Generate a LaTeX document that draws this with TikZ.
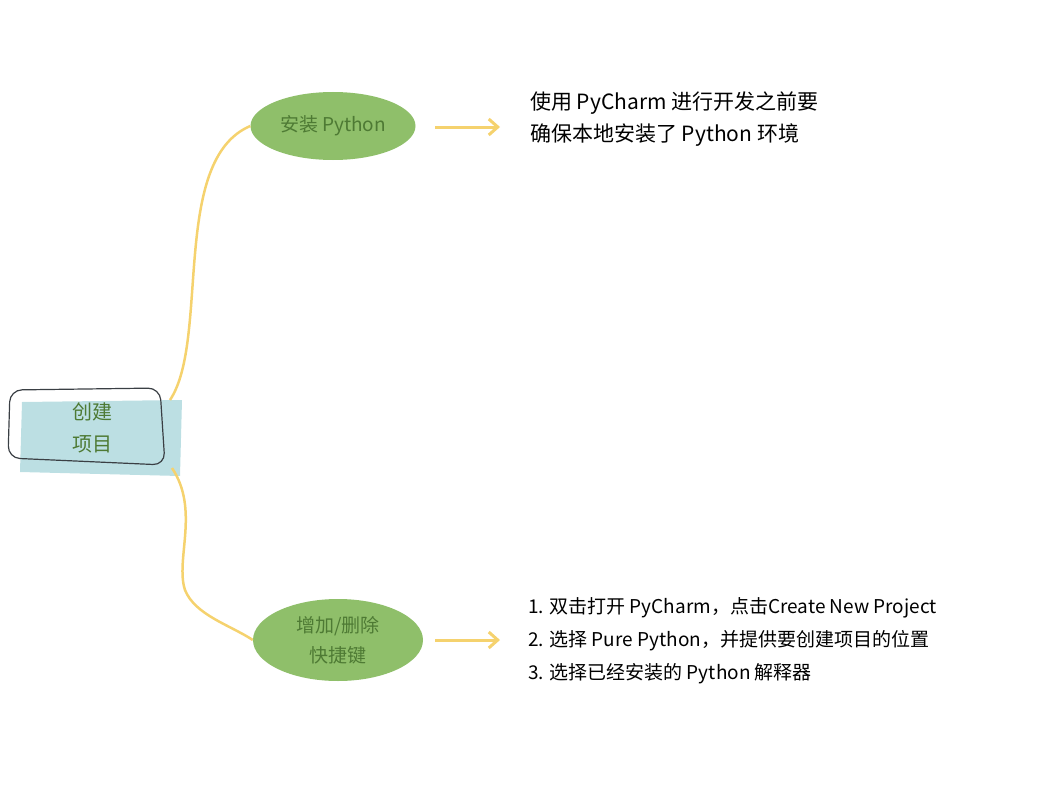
\documentclass[tikz,border=0pt]{standalone}
\usepackage{fontspec}
\setmainfont{Noto Sans CJK SC}
\usetikzlibrary{positioning,arrows.meta,shapes.geometric}
\definecolor{leaf}{HTML}{8FBF6A}
\definecolor{leaftext}{HTML}{4E7A34}
\definecolor{sky}{HTML}{BCDFE3}
\definecolor{branch}{HTML}{F5D26E}
\definecolor{pen}{HTML}{3A3F44}
\tikzset{
  topic/.style={ellipse, fill=leaf, text=leaftext, align=center, font=\fontsize{19}{30}\selectfont, minimum width=165pt, minimum height=68pt, inner sep=0pt},
  note/.style={anchor=north west, align=left, font=\fontsize{21}{32}\selectfont, inner sep=0pt},
  branchline/.style={branch, line width=2.5pt},
  pointer/.style={branch, line width=3pt, -{Straight Barb[length=9pt,width=16pt]}}
}
\begin{document}
\begin{tikzpicture}[x=1pt,y=-1pt]
  \useasboundingbox (0,0) rectangle (1058,792);
  % root
  \fill[sky] (22,402) -- (182,400) -- (180,476) -- (20,472) -- cycle;
  \draw[pen, line width=1.2pt, rounded corners=12pt] (10,390) -- (160,388) -- (165,465) -- (8,458) -- cycle;
  \node[text=leaftext, align=center, font=\fontsize{20}{32}\selectfont] (root) at (92,428) {创建\\项目};
  % topics
  \node[topic] (install) at (333,126) {安装 Python};
  \node[topic, minimum width=170pt, minimum height=82pt] (keys) at (338,640) {增加/删除\\快捷键};
  \draw[branchline] (170,400) .. controls (210,340) and (170,160) .. (install.west);
  \draw[branchline] (172,468) .. controls (200,510) and (175,560) .. (185,590) .. controls (195,615) and (230,625) .. (keys.west);
  % notes
  \coordinate (a1) at (435,127);
  \coordinate (a2) at (435,640);
  \draw[pointer] (a1) -- ++(65,0);
  \draw[pointer] (a2) -- ++(65,0);
  \node[note] (n1) at (530,92) {使用 PyCharm 进行开发之前要\\确保本地安装了 Python 环境};
  \node[note, font=\fontsize{19}{33}\selectfont] (n2) at (528,597) {1. 双击打开 PyCharm，点击Create New Project\\2. 选择 Pure Python，并提供要创建项目的位置\\3. 选择已经安装的 Python 解释器};
\end{tikzpicture}
\end{document}
